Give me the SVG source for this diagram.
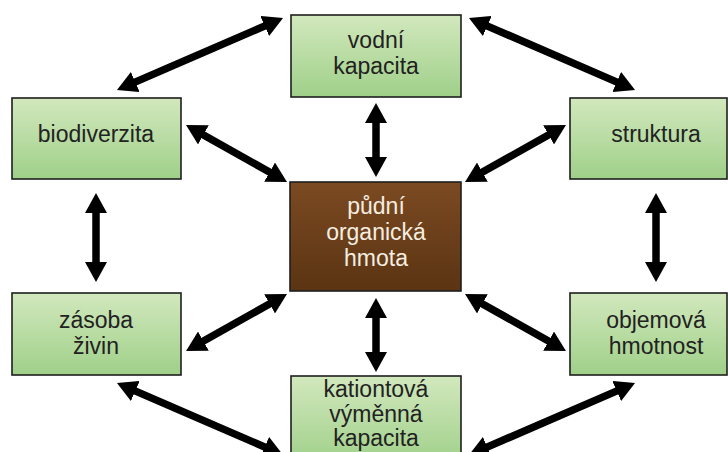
<svg xmlns="http://www.w3.org/2000/svg" width="728" height="452" viewBox="0 0 728 452">
<defs>
<linearGradient id="g" x1="0" y1="0" x2="0" y2="1">
<stop offset="0" stop-color="#d2e8bd"/>
<stop offset="1" stop-color="#9fd089"/>
</linearGradient>
<linearGradient id="b" x1="0" y1="0" x2="0" y2="1">
<stop offset="0" stop-color="#7b4a22"/>
<stop offset="1" stop-color="#5b3413"/>
</linearGradient>
<marker id="ah" viewBox="0 0 20 22" refX="6" refY="11" markerWidth="20" markerHeight="22" markerUnits="userSpaceOnUse" orient="auto-start-reverse">
<path d="M0,0 L20,11 L0,22 z" fill="#000"/>
</marker>
</defs>
<style>
.box{fill:url(#g);stroke:#1e1e1e;stroke-width:1.6}
.core{fill:url(#b);stroke:#1e1e1e;stroke-width:1.6}
text{font-family:"Liberation Sans",Arial,sans-serif;font-size:23px;fill:#222;text-anchor:middle}
.w{fill:#f5eee0}
.c line{stroke:#000;stroke-width:7.5;marker-start:url(#ah);marker-end:url(#ah)}
</style>
<rect width="728" height="452" fill="#fff"/>
<g class="c" id="connectors">
<line x1="129.8" y1="84.4" x2="270.2" y2="23.6"/>
<line x1="481.8" y1="23.6" x2="622.2" y2="84.4"/>
<line x1="198.2" y1="131.9" x2="274.8" y2="175.1"/>
<line x1="553.8" y1="131.9" x2="477.2" y2="175.1"/>
<line x1="274.8" y1="300.9" x2="198.2" y2="344.1"/>
<line x1="477.2" y1="300.9" x2="553.8" y2="344.1"/>
<line x1="376" y1="117" x2="376" y2="163"/>
<line x1="376" y1="312" x2="376" y2="358"/>
<line x1="96" y1="207" x2="96" y2="268"/>
<line x1="656" y1="207" x2="656" y2="268"/>
<line x1="129.8" y1="388.6" x2="270.2" y2="449.4"/>
<line x1="622.2" y1="388.6" x2="481.8" y2="449.4"/>
</g>
<g id="vodni"><rect class="box" x="291" y="15" width="170" height="82"/><text x="376" y="48">vodní</text><text x="376" y="74">kapacita</text></g>
<g id="biodiverzita"><rect class="box" x="12" y="98" width="169" height="81"/><text x="96" y="142">biodiverzita</text></g>
<g id="struktura"><rect class="box" x="570" y="98" width="157" height="81"/><text x="656" y="142">struktura</text></g>
<g id="hmota"><rect class="core" x="290" y="182" width="171" height="109"/><text class="w" x="376" y="214">půdní</text><text class="w" x="376" y="240">organická</text><text class="w" x="376" y="266">hmota</text></g>
<g id="zasoba"><rect class="box" x="12" y="293" width="169" height="82"/><text x="96" y="328">zásoba</text><text x="96" y="354">živin</text></g>
<g id="objemova"><rect class="box" x="570" y="293" width="157" height="82"/><text x="656" y="328">objemová</text><text x="656" y="354">hmotnost</text></g>
<g id="kationtova"><rect class="box" x="291" y="376" width="170" height="90"/><text x="376" y="397">kationtová</text><text x="376" y="422">výměnná</text><text x="376" y="446">kapacita</text></g>
</svg>
